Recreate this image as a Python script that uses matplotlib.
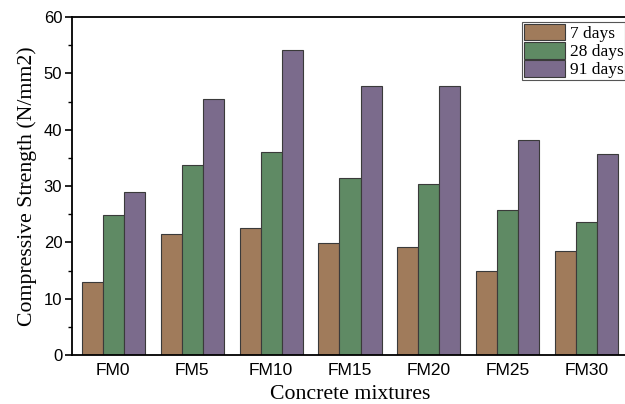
import numpy as np
import matplotlib
matplotlib.use('Agg')
import matplotlib.pyplot as plt
from matplotlib.ticker import MultipleLocator

# compressive strength per mixture and curing age (N/mm2)
mixtures = ['FM0', 'FM5', 'FM10', 'FM15', 'FM20', 'FM25', 'FM30']
days7 = [12.9, 21.5, 22.5, 19.9, 19.1, 14.9, 18.5]
days28 = [24.9, 33.8, 36.1, 31.4, 30.4, 25.7, 23.6]
days91 = [29.0, 45.5, 54.1, 47.8, 47.8, 38.1, 35.7]
series = [('7 days', days7, '#a07b5b'),
          ('28 days', days28, '#5f8a64'),
          ('91 days', days91, '#7b6b8c')]

fig = plt.figure(figsize=(6.25, 4.04), dpi=100)
ax = fig.add_axes([72/625, 1-355/404, 556/625, 338/404])

x = np.arange(len(mixtures))
w = 0.266
for i, (name, vals, col) in enumerate(series):
    ax.bar(x + (i-1)*w, vals, w, color=col, edgecolor='#3a3a3a',
           linewidth=0.8, label=name)

ax.set_xlim(-0.52, 6.52)
ax.set_ylim(0, 60)
ax.yaxis.set_major_locator(MultipleLocator(10))
ax.yaxis.set_minor_locator(MultipleLocator(5))
ax.set_xticks(x)
ax.set_xticklabels(mixtures, family='Liberation Sans', fontsize=12.5)
for lab in ax.get_yticklabels():
    lab.set_family('Liberation Sans')
    lab.set_fontsize(12)
ax.tick_params(axis='x', length=0, pad=6)
ax.tick_params(axis='y', which='major', length=5, width=1.2, direction='out', pad=2)
ax.tick_params(axis='y', which='minor', length=3, width=1.0, direction='out')
ax.spines['right'].set_visible(False)
for s in ['left', 'bottom', 'top']:
    ax.spines[s].set_linewidth(1.3)

ax.set_ylabel('Compressive Strength (N/mm2)', family='Liberation Serif', fontsize=15.7, labelpad=5)
ax.set_xlabel('Concrete mixtures', family='Liberation Serif', fontsize=15.7, labelpad=5)

leg = ax.legend(loc='upper right', bbox_to_anchor=(553/556, 1-5/338),
                prop={'family': 'Liberation Serif', 'size': 12.5},
                fancybox=False, edgecolor='#555555', framealpha=1,
                handlelength=2.4, handleheight=1.1, handletextpad=0.25,
                labelspacing=0.0, borderpad=0.1, borderaxespad=0)
leg.get_frame().set_linewidth(0.8)

fig.savefig('out.png', dpi=100)
